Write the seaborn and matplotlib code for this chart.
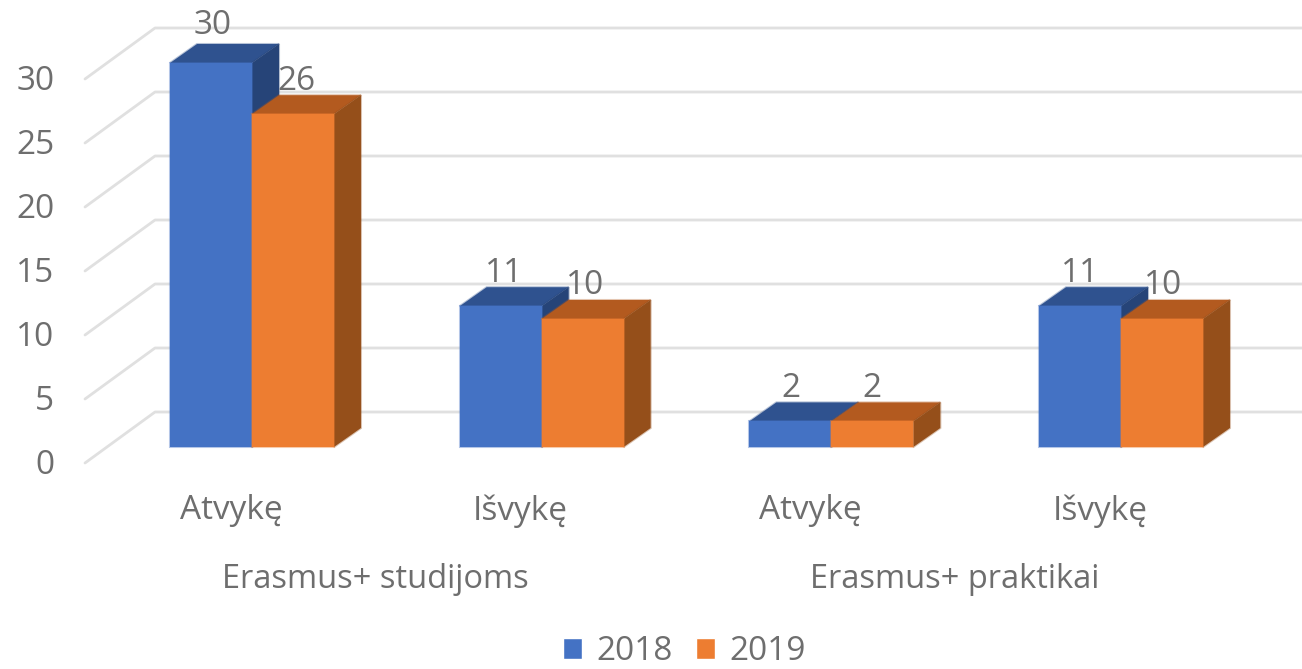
import pandas as pd
import matplotlib.pyplot as plt
import seaborn as sns
from matplotlib.colors import to_rgba
from matplotlib.patches import Polygon, Patch
from matplotlib.transforms import Affine2D

# values
slots = [0, 1, 2, 3]
directions = ['Atvykę', 'Išvykę', 'Atvykę', 'Išvykę']
programmes = ['Erasmus+ studijoms', 'Erasmus+ praktikai']
values_2018 = [30, 11, 2, 11]
values_2019 = [26, 10, 2, 10]
y_ticks = [0, 5, 10, 15, 20, 25, 30]

sns.set_style('white')
plt.rcParams['font.family'] = ['Open Sans', 'DejaVu Sans']

W, H = 1302, 669
TEXT = '#6e6e6e'
GRID = '#e0e0e0'
PX_X = 289.67  # pixels per category
PX_Y = 12.8    # pixels per unit
LEFT, BASE = 85, 447

df = pd.DataFrame({
    'slot': slots * 2,
    'year': ['2018'] * 4 + ['2019'] * 4,
    'value': values_2018 + values_2019,
})
palette = {'2018': '#4472C4', '2019': '#ED7D31'}
top_col = {'2018': '#2F528F', '2019': '#B35A1F'}
side_col = {'2018': '#264478', '2019': '#954F1A'}

fig = plt.figure(figsize=(W / 100, H / 100), dpi=100)
ax = fig.add_axes([LEFT / W, (H - BASE) / H, (W - LEFT) / W, BASE / H])

sns.barplot(data=df, x='slot', y='value', hue='year', palette=palette, width=0.566,
            gap=0, saturation=1, legend=False, ax=ax, zorder=3)

ax.set_xlim((LEFT - 252) / PX_X, (W - 252) / PX_X)
ax.set_ylim(0, BASE / PX_Y)
ax.set_xlabel('')
ax.set_ylabel('')
sns.despine(ax=ax, left=True, bottom=True, top=True, right=True)

# depth of the fake 3d look, in data units
dx = 27 / PX_X
dy = 19 / PX_Y

years = ['2018'] * 4 + ['2019'] * 4
nudges = [(2, 5), (3, 0), (1, 0), (0, 0), (3, 0), (2, 0), (0, 0), (1, 0)]
for i, (bar, year) in enumerate(zip(ax.patches, years)):
    z = 3 + i // 4
    x0, x1 = bar.get_x(), bar.get_x() + bar.get_width()
    h = bar.get_height()
    halo = to_rgba(palette[year], 0.4)
    bar.set_zorder(z + 0.5)
    bar.set_edgecolor(halo)
    bar.set_linewidth(1.5)
    bar.set_clip_on(False)
    ax.add_patch(Polygon([(x0, h), (x1, h), (x1 + dx, h + dy), (x0 + dx, h + dy)],
                         facecolor=top_col[year], edgecolor=to_rgba(top_col[year], 0.35), linewidth=1.5,
                         zorder=z + 0.2, clip_on=False))
    ax.add_patch(Polygon([(x1, 0), (x1 + dx, dy), (x1 + dx, h + dy), (x1, h)],
                         facecolor=side_col[year], edgecolor=to_rgba(side_col[year], 0.35), linewidth=1.5,
                         zorder=z + 0.3, clip_on=False))
    ox, oy = nudges[i]
    ax.annotate(str(h if h % 1 else int(h)), ((x0 + x1) / 2, h),
                xytext=(ox * 0.72, (33 + oy) * 0.72), textcoords='offset points',
                ha='center', va='center', fontsize=24, color=TEXT, zorder=8)

# back wall lines and the slanted lines on the left side
back = 35 / PX_Y
front = -16 / PX_Y
wall_x = (155 - LEFT) / (W - LEFT)
for v in y_ticks:
    ax.plot([0, wall_x, 1], [v + front, v + back, v + back], color=GRID, lw=2,
            transform=ax.get_yaxis_transform(), clip_on=False, zorder=1)

# tick labels
ax.set_yticks(y_ticks)
ax.set_yticklabels([str(v) for v in y_ticks])
ax.tick_params(axis='y', length=0, pad=22, labelsize=24, labelcolor=TEXT)
for lab in ax.get_yticklabels():
    lab.set_transform(lab.get_transform() + Affine2D().translate(0, -15))

ax.set_xticks(slots)
ax.set_xticklabels(directions)
ax.tick_params(axis='x', length=0, pad=34, labelsize=24, labelcolor=TEXT)
for lab in ax.get_xticklabels():
    lab.set_transform(lab.get_transform() + Affine2D().translate(-21, 0))

# second level of the category axis
for centre, name in zip([0.5, 2.5], programmes):
    ax.annotate(name, (centre, 0), xytext=(-21 * 0.72, -132 * 0.72), textcoords='offset points',
                ha='center', va='center', fontsize=23.5, color=TEXT, annotation_clip=False)

handles = [Patch(facecolor=palette[y], label=y) for y in palette]
fig.legend(handles=handles, loc='center', bbox_to_anchor=(684 / W, 1 - 652 / H), ncol=2, frameon=False,
           fontsize=24, labelcolor=TEXT, handlelength=0.58, handleheight=0.58,
           handletextpad=0.42, columnspacing=0.7, borderpad=0)

fig.savefig('out.png', dpi=100)
